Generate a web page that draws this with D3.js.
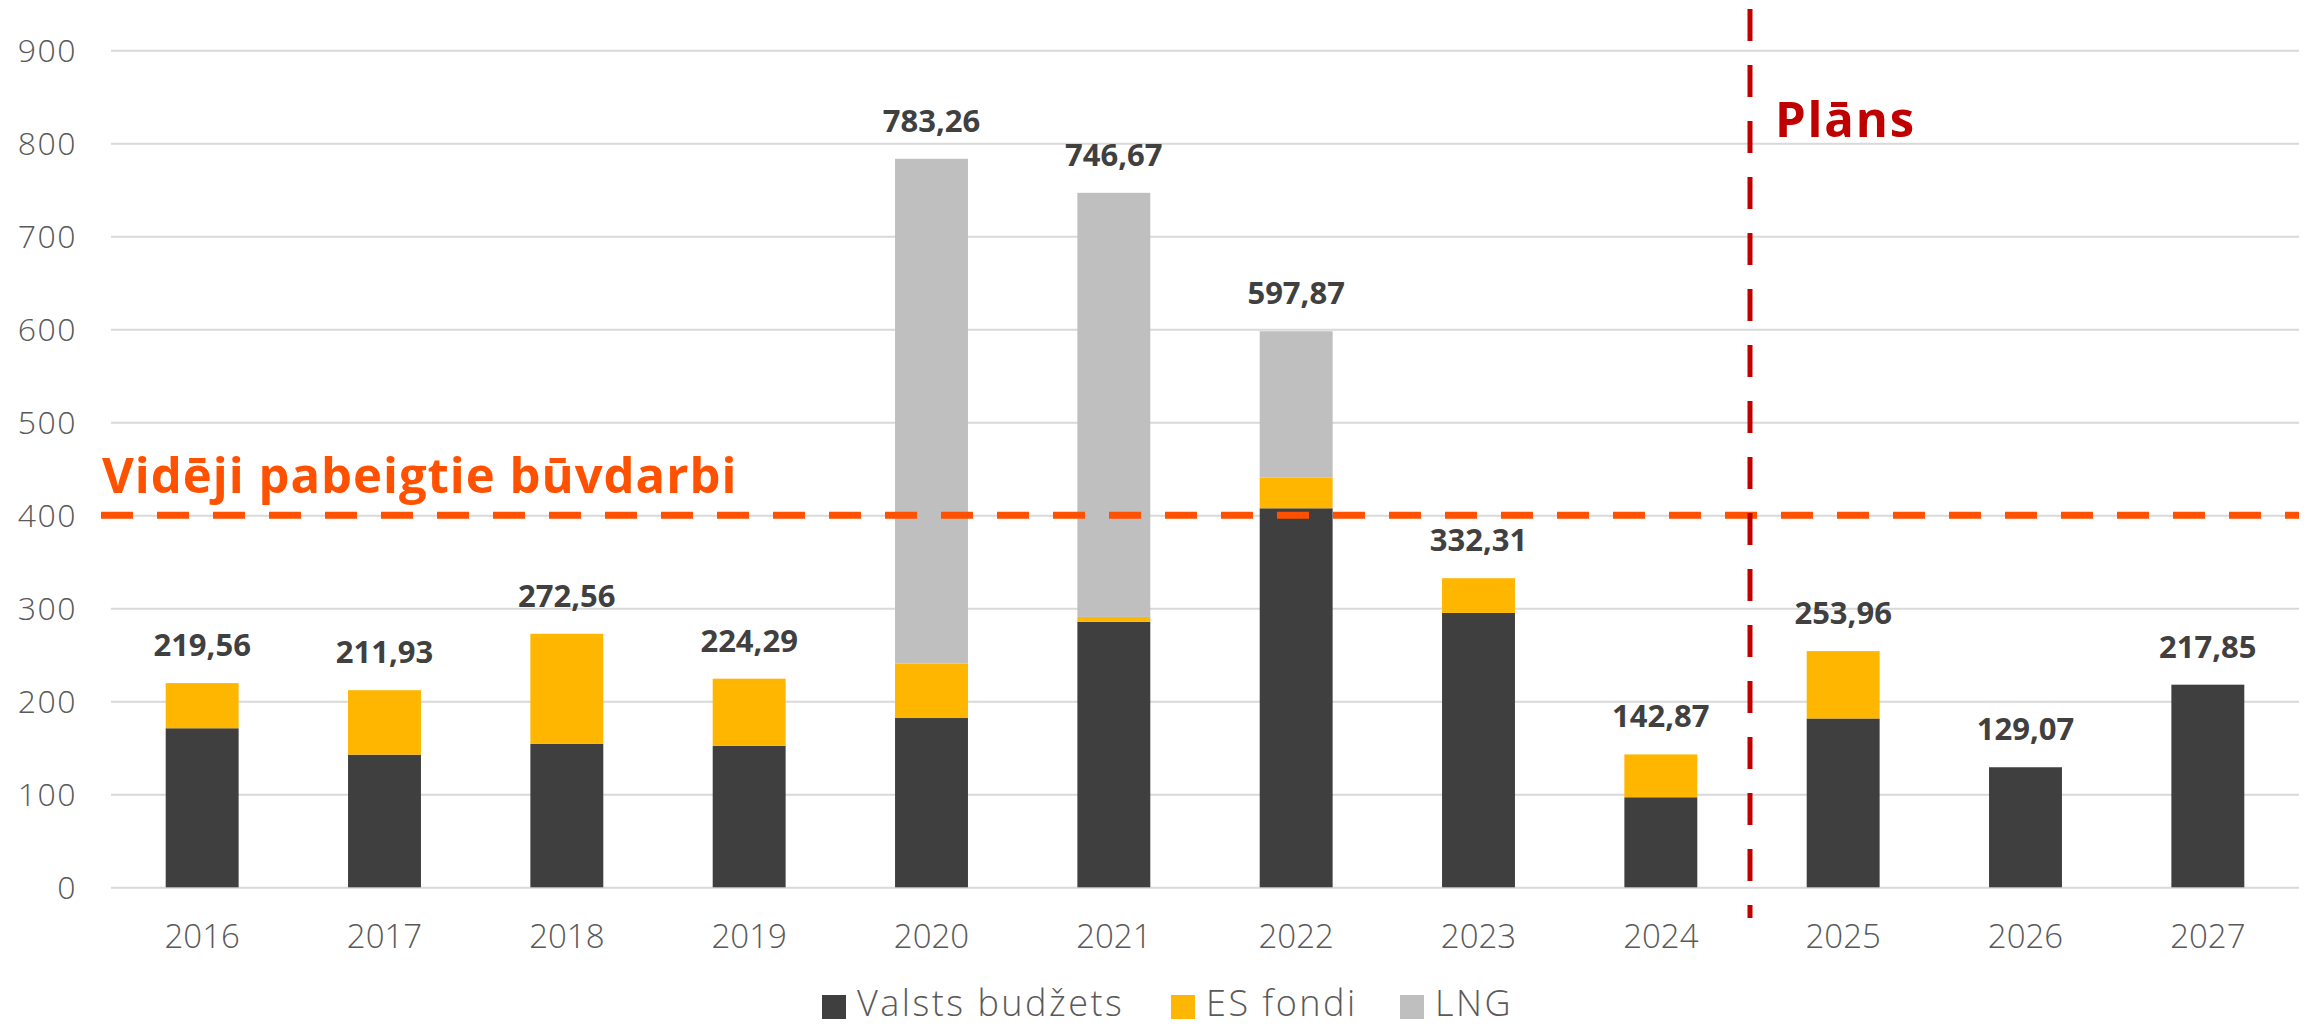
<!DOCTYPE html>
<html>
<head>
<meta charset="utf-8">
<script src="https://cdn.jsdelivr.net/npm/d3@7"></script>
<style>
  html, body { margin: 0; padding: 0; background: #ffffff; }
  svg { display: block; }
  text { font-family: "Open Sans", "DejaVu Sans", sans-serif; }
</style>
</head>
<body>
<svg id="chart" width="2315" height="1026"></svg>
<script>
// ---- data ----
const years = ["2016","2017","2018","2019","2020","2021","2022","2023","2024","2025","2026","2027"];
const valstsBudzets = [171.0, 142.6, 154.2, 152.2, 182.0, 285.5, 407.5, 295.0, 96.8, 181.5, 129.07, 217.85];
const esFondi       = [48.56, 69.33, 118.36, 72.09, 58.6, 5.2, 32.9, 37.31, 46.07, 72.46, 0, 0];
const lngValues     = [0, 0, 0, 0, 542.66, 455.97, 157.47, 0, 0, 0, 0, 0];
const seriesNames = ["Valsts budžets", "ES fondi", "LNG"];
const yTicks = [0, 100, 200, 300, 400, 500, 600, 700, 800, 900];
const averageValue = 400;
const averageLabel = "Vidēji pabeigtie būvdarbi";
const planLabel = "Plāns";
const planStartYear = "2025";

// ---- styles ----
const colors = ["#3F3F3F", "#FFB600", "#BFBFBF"];
const axisColor = "#595959";
const labelColor = "#404040";
const gridColor = "#D9D9D9";
const avgColor = "#FF5100";
const planColor = "#C00000";

const svg = d3.select("#chart");

const x = d3.scaleBand()
  .domain(years)
  .range([111, 2299])
  .paddingInner(0.6)
  .paddingOuter(0.3);

const y = d3.scaleLinear()
  .domain([0, 900])
  .range([887.3, 50.2]);

// gridlines + y labels via axis
const yAxis = d3.axisLeft(y)
  .tickValues(yTicks)
  .tickSize(-(2299 - 111))
  .tickPadding(34)
  .tickFormat(d3.format("d"));

const gy = svg.append("g")
  .attr("transform", "translate(111,0)")
  .call(yAxis);
gy.select(".domain").remove();
gy.selectAll(".tick line").attr("stroke", gridColor).attr("stroke-width", 2);
gy.selectAll(".tick text")
  .attr("fill", axisColor)
  .style("font-size", "32px")
  .style("font-weight", 300)
  .style("letter-spacing", "1.5px")
  .attr("dy", "0.36em");

// stacked data
const table = years.map((yr, i) => ({
  year: yr,
  "Valsts budžets": valstsBudzets[i],
  "ES fondi": esFondi[i],
  "LNG": lngValues[i]
}));
const stack = d3.stack().keys(seriesNames);
const stacked = stack(table);

svg.append("g").selectAll("g")
  .data(stacked)
  .join("g")
  .attr("fill", (d, i) => colors[i])
  .selectAll("rect")
  .data(d => d.filter(p => p[1] - p[0] > 0))
  .join("rect")
  .attr("x", d => x(d.data.year))
  .attr("width", x.bandwidth())
  .attr("y", d => y(d[1]))
  .attr("height", d => y(d[0]) - y(d[1]));

// x labels via axis
const xAxis = d3.axisBottom(x).tickSize(0).tickPadding(0);
const gx = svg.append("g")
  .attr("transform", "translate(0,887.3)")
  .call(xAxis);
gx.select(".domain").remove();
gx.selectAll(".tick text")
  .attr("fill", axisColor)
  .style("font-size", "33px")
  .style("font-weight", 300)
  .attr("y", 61)
  .attr("dy", 0);

// total labels
const fmt = v => v.toFixed(2).replace(".", ",");
svg.append("g").selectAll("text")
  .data(table)
  .join("text")
  .attr("x", d => x(d.year) + x.bandwidth() / 2)
  .attr("y", d => y(d["Valsts budžets"] + d["ES fondi"] + d["LNG"]) - 27)
  .attr("text-anchor", "middle")
  .attr("fill", labelColor)
  .style("font-size", "31px")
  .style("font-weight", 700)
  .text(d => fmt(d["Valsts budžets"] + d["ES fondi"] + d["LNG"]));

// average dashed line
svg.append("line")
  .attr("x1", 101).attr("x2", 2299)
  .attr("y1", y(averageValue)).attr("y2", y(averageValue))
  .attr("stroke", avgColor)
  .attr("stroke-width", 7)
  .attr("stroke-dasharray", "32,24");

svg.append("text")
  .attr("x", 102)
  .attr("y", y(averageValue) - 22)
  .attr("fill", avgColor)
  .style("font-size", "49px")
  .style("font-weight", 700)
  .style("letter-spacing", "1px")
  .text(averageLabel);

// plan vertical dashed line
const idx = years.indexOf(planStartYear);
const planX = (x(years[idx - 1]) + x.bandwidth() + x(planStartYear)) / 2 - 2;
svg.append("line")
  .attr("x1", planX).attr("x2", planX)
  .attr("y1", 9).attr("y2", 918)
  .attr("stroke", planColor)
  .attr("stroke-width", 5)
  .attr("stroke-dasharray", "32,24");

svg.append("text")
  .attr("x", planX + 25)
  .attr("y", 137)
  .attr("fill", planColor)
  .style("font-size", "49px")
  .style("font-weight", 700)
  .style("letter-spacing", "1.8px")
  .text(planLabel);

// legend
const legendX = [822, 1171, 1400];
const lg = svg.append("g").selectAll("g")
  .data(seriesNames)
  .join("g")
  .attr("transform", (d, i) => `translate(${legendX[i]},995)`);
lg.append("rect")
  .attr("width", 24).attr("height", 24)
  .attr("fill", (d, i) => colors[i]);
lg.append("text")
  .attr("x", 35)
  .attr("y", 21)
  .attr("fill", axisColor)
  .style("font-size", "36px")
  .style("font-weight", 300)
  .style("letter-spacing", "2.5px")
  .text(d => d);
</script>
</body>
</html>
